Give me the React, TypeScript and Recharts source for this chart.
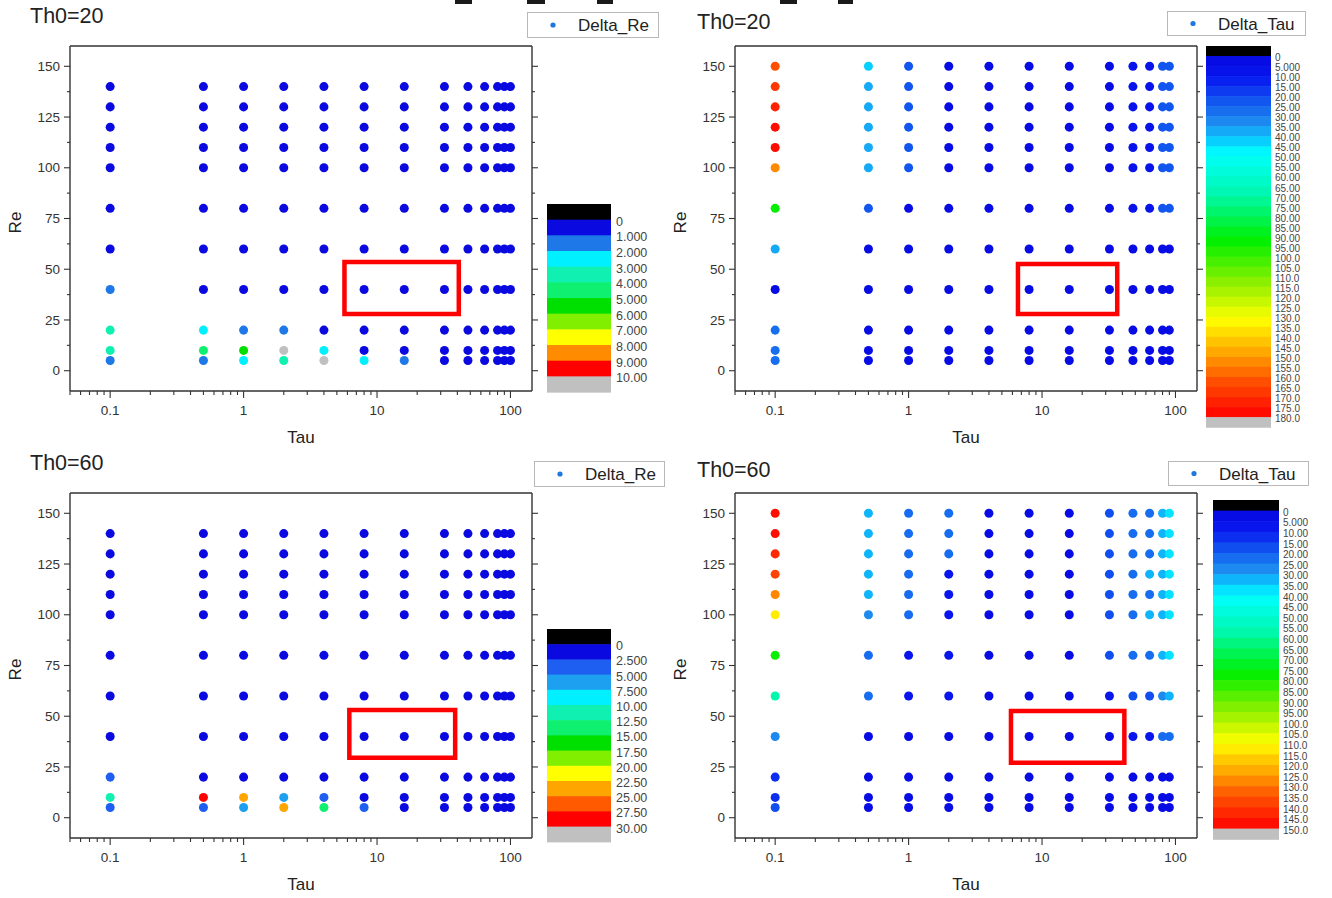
import React from 'react';
import { ScatterChart, Scatter, XAxis, YAxis, ZAxis, Cell, ReferenceArea } from 'recharts';

const FONT = 'Arial, "Liberation Sans", Helvetica, sans-serif';
const AXIS = '#333333';

// Grid of the sweep: Tau (columns) and Re (rows)
const TAU_FULL = [0.1, 0.5, 1, 2, 4, 8, 16, 32, 48, 64, 80, 90, 100];
const TAU_SHORT = [0.1, 0.5, 1, 2, 4, 8, 16, 32, 48, 64, 80, 90];
const RE_SHORT = [5, 10, 20, 40, 60, 80, 100, 110, 120, 130, 140];
const RE_FULL = [5, 10, 20, 40, 60, 80, 100, 110, 120, 130, 140, 150];

// Axis ticks
const TAU_TICKS = [
  0.05, 0.06, 0.07, 0.08, 0.09, 0.1, 0.2, 0.3, 0.4, 0.5, 0.6, 0.7, 0.8, 0.9,
  1, 2, 3, 4, 5, 6, 7, 8, 9, 10, 20, 30, 40, 50, 60, 70, 80, 90, 100,
];
const TAU_LABELED = [0.1, 1, 10, 100];
const RE_TICKS = [0, 12.5, 25, 37.5, 50, 62.5, 75, 87.5, 100, 112.5, 125, 137.5, 150];
const RE_LABELED = [0, 25, 50, 75, 100, 125, 150];
const TAU_DOMAIN = [0.05, 145];
const RE_DOMAIN = [-10, 160];

// Delta_Re, Th0=20 — rows follow RE_SHORT, columns follow TAU_FULL
const deltaReTh20 = [
  [1.6, 1.5, 2.6, 3.4, 11.2, 2.4, 1.3, 0.7, 0.6, 0.5, 0.5, 0.4, 0.4],
  [3.3, 4.5, 5.4, 10.8, 2.5, 0.8, 0.7, 0.6, 0.5, 0.5, 0.4, 0.4, 0.4],
  [3.5, 2.7, 1.4, 1.2, 0.8, 0.6, 0.5, 0.5, 0.4, 0.4, 0.4, 0.3, 0.3],
  [1.3, 0.7, 0.6, 0.5, 0.5, 0.4, 0.4, 0.3, 0.3, 0.3, 0.3, 0.3, 0.3],
  [0.8, 0.6, 0.5, 0.4, 0.4, 0.3, 0.3, 0.3, 0.3, 0.2, 0.2, 0.2, 0.2],
  [0.6, 0.5, 0.4, 0.4, 0.3, 0.3, 0.3, 0.2, 0.2, 0.2, 0.2, 0.2, 0.2],
  [0.5, 0.4, 0.4, 0.3, 0.3, 0.3, 0.2, 0.2, 0.2, 0.2, 0.2, 0.2, 0.2],
  [0.5, 0.4, 0.3, 0.3, 0.3, 0.2, 0.2, 0.2, 0.2, 0.2, 0.2, 0.2, 0.2],
  [0.4, 0.4, 0.3, 0.3, 0.3, 0.2, 0.2, 0.2, 0.2, 0.2, 0.2, 0.2, 0.2],
  [0.4, 0.3, 0.3, 0.3, 0.2, 0.2, 0.2, 0.2, 0.2, 0.2, 0.2, 0.2, 0.2],
  [0.4, 0.3, 0.3, 0.2, 0.2, 0.2, 0.2, 0.2, 0.2, 0.2, 0.2, 0.2, 0.2],
];

// Delta_Re, Th0=60 — rows follow RE_SHORT, columns follow TAU_FULL
const deltaReTh60 = [
  [3.6, 3.4, 6.2, 23.8, 14.0, 3.3, 1.6, 1.2, 1.0, 0.9, 0.8, 0.8, 0.7],
  [11.2, 28.6, 23.6, 6.4, 3.8, 1.8, 1.4, 1.1, 1.0, 0.9, 0.8, 0.7, 0.7],
  [3.9, 1.8, 1.5, 1.3, 1.1, 1.0, 0.9, 0.8, 0.7, 0.7, 0.6, 0.6, 0.6],
  [1.9, 1.2, 1.0, 0.9, 0.8, 0.7, 0.7, 0.6, 0.6, 0.5, 0.5, 0.5, 0.5],
  [1.5, 1.0, 0.9, 0.8, 0.7, 0.6, 0.6, 0.5, 0.5, 0.5, 0.5, 0.4, 0.4],
  [1.3, 0.9, 0.8, 0.7, 0.6, 0.6, 0.5, 0.5, 0.4, 0.4, 0.4, 0.4, 0.4],
  [1.1, 0.8, 0.7, 0.6, 0.6, 0.5, 0.5, 0.4, 0.4, 0.4, 0.4, 0.4, 0.4],
  [1.1, 0.8, 0.7, 0.6, 0.5, 0.5, 0.4, 0.4, 0.4, 0.4, 0.4, 0.3, 0.3],
  [1.0, 0.7, 0.6, 0.6, 0.5, 0.5, 0.4, 0.4, 0.4, 0.3, 0.3, 0.3, 0.3],
  [1.0, 0.7, 0.6, 0.5, 0.5, 0.4, 0.4, 0.4, 0.3, 0.3, 0.3, 0.3, 0.3],
  [0.9, 0.7, 0.6, 0.5, 0.5, 0.4, 0.4, 0.3, 0.3, 0.3, 0.3, 0.3, 0.3],
];

// Delta_Tau, Th0=20 — rows follow RE_FULL, columns follow TAU_SHORT
const deltaTauTh20 = [
  [28, 4, 3, 3, 3, 3, 3, 3, 4, 4, 4, 4],
  [28, 4, 3, 3, 3, 3, 3, 3, 4, 4, 4, 4],
  [27, 4, 3, 3, 3, 3, 3, 3, 4, 4, 4, 4],
  [4, 4, 3, 3, 3, 3, 3, 3, 4, 4, 4, 4],
  [36, 4, 3, 3, 3, 3, 3, 3, 4, 4, 4, 4],
  [93, 23, 4, 3, 3, 3, 3, 4, 7, 7, 20, 22],
  [151, 36, 21, 4, 3, 3, 3, 4, 7, 7, 20, 22],
  [175, 36, 21, 4, 3, 3, 3, 4, 7, 7, 20, 22],
  [177, 36, 21, 4, 3, 3, 3, 4, 7, 7, 20, 22],
  [170, 36, 21, 4, 3, 3, 3, 4, 7, 7, 20, 22],
  [166, 36, 21, 4, 3, 3, 3, 4, 7, 7, 20, 22],
  [164, 41, 21, 4, 3, 3, 3, 4, 7, 7, 20, 22],
];

// Delta_Tau, Th0=60 — rows follow RE_FULL, columns follow TAU_SHORT
const deltaTauTh60 = [
  [16, 3, 3, 3, 3, 3, 3, 3, 4, 4, 4, 4],
  [13, 3, 3, 3, 3, 3, 3, 3, 4, 4, 4, 4],
  [13, 4, 3, 3, 3, 3, 3, 3, 4, 4, 4, 4],
  [29, 4, 3, 3, 3, 3, 3, 4, 9, 9, 21, 22],
  [57, 20, 8, 5, 3, 3, 3, 8, 19, 19, 29, 33],
  [76, 21, 8, 6, 3, 3, 3, 19, 21, 24, 31, 36],
  [110, 29, 23, 6, 4, 3, 3, 19, 21, 30, 31, 36],
  [127, 31, 23, 6, 4, 3, 3, 19, 21, 24, 31, 36],
  [137, 31, 23, 6, 4, 3, 3, 19, 21, 30, 31, 36],
  [143, 31, 23, 20, 4, 3, 3, 19, 21, 24, 31, 36],
  [146, 31, 23, 20, 4, 3, 3, 19, 21, 24, 31, 36],
  [148, 33, 23, 20, 4, 3, 3, 19, 21, 24, 31, 36],
];

// Colour-scale levels
const LEVELS_RE_TH20 = [0, 1, 2, 3, 4, 5, 6, 7, 8, 9, 10];
const LEVELS_RE_TH60 = [0, 2.5, 5, 7.5, 10, 12.5, 15, 17.5, 20, 22.5, 25, 27.5, 30];
const LEVELS_TAU_TH20 = [
  0, 5, 10, 15, 20, 25, 30, 35, 40, 45, 50, 55, 60, 65, 70, 75, 80, 85, 90,
  95, 100, 105, 110, 115, 120, 125, 130, 135, 140, 145, 150, 155, 160, 165, 170, 175, 180,
];
const LEVELS_TAU_TH60 = [
  0, 5, 10, 15, 20, 25, 30, 35, 40, 45, 50, 55, 60, 65, 70, 75, 80, 85, 90,
  95, 100, 105, 110, 115, 120, 125, 130, 135, 140, 145, 150,
];

const COLORS_RE_TH20 = ['#0a0ae0', '#1e78e8', '#00f0ff', '#10f0b0', '#10f070', '#00e000', '#80f000', '#ffff00', '#ff8c00', '#ff0000'];
const COLORS_RE_TH60 = ['#0a0ae0', '#1e5ef0', '#1ea0f0', '#00f0ff', '#10f0b0', '#10f070', '#00e000', '#80f000', '#ffff00', '#ffa500', '#ff5a00', '#ff0000'];

const UNDER = '#000000';
const OVER = '#c0c0c0';

// Jet-like ramp used by the Delta_Tau scales
const JET_STOPS: [number, string][] = [
  [0, '#0808e0'], [0.06, '#0818f0'], [0.14, '#1464f0'], [0.19, '#1e90f0'],
  [0.23, '#08c8ff'], [0.27, '#00ffff'], [0.38, '#00f8b0'], [0.51, '#00f000'],
  [0.63, '#90f000'], [0.73, '#ffff00'], [0.82, '#ffa800'], [0.9, '#ff5000'], [1, '#ff0000'],
];

function hexToRgb(h: string) {
  return [parseInt(h.slice(1, 3), 16), parseInt(h.slice(3, 5), 16), parseInt(h.slice(5, 7), 16)];
}
function jet(t: number) {
  for (let i = 1; i < JET_STOPS.length; i++) {
    const [t1, c1] = JET_STOPS[i];
    const [t0, c0] = JET_STOPS[i - 1];
    if (t <= t1) {
      const f = (t - t0) / (t1 - t0);
      const a = hexToRgb(c0);
      const b = hexToRgb(c1);
      const m = a.map((v, k) => Math.round(v + (b[k] - v) * f));
      return `rgb(${m[0]},${m[1]},${m[2]})`;
    }
  }
  return JET_STOPS[JET_STOPS.length - 1][1];
}
function jetBins(levels: number[]) {
  const max = levels[levels.length - 1];
  return levels.slice(0, -1).map((l, i) => jet((l + levels[i + 1]) / 2 / max));
}
const COLORS_TAU_TH20 = jetBins(LEVELS_TAU_TH20);
const COLORS_TAU_TH60 = jetBins(LEVELS_TAU_TH60);

function colorFor(v: number, levels: number[], colors: string[]) {
  if (v < levels[0]) return UNDER;
  if (v >= levels[levels.length - 1]) return OVER;
  for (let i = 0; i < colors.length; i++) if (v < levels[i + 1]) return colors[i];
  return OVER;
}

// Highlighted Re=40 block, in data units (tau range, Re range)
const BOX_RE_TH20 = { x1: 5.7, x2: 41, y1: 28, y2: 53.6 };
const BOX_TAU_TH20 = { x1: 6.6, x2: 36.6, y1: 28, y2: 52.6 };
const BOX_RE_TH60 = { x1: 6.2, x2: 38.5, y1: 29.5, y2: 53.1 };
const BOX_TAU_TH60 = { x1: 5.85, x2: 41.4, y1: 27.1, y2: 52.6 };

const isDecade = (v: number) => TAU_LABELED.some((d) => Math.abs(d - v) < 1e-9);
const tauLabel = (v: number) => (v < 1 ? String(v) : String(Math.round(v)));

function TauTick(props: any) {
  const { x, y, payload, side } = props;
  const v = payload.value;
  const major = isDecade(v);
  const len = major ? 7 : 4;
  if (side === 'top') {
    return <line x1={x} x2={x} y1={y} y2={y + len} stroke={AXIS} strokeWidth={1.1} />;
  }
  return (
    <g>
      <line x1={x} x2={x} y1={y} y2={y + len} stroke={AXIS} strokeWidth={1.1} />
      {major && (
        <text x={x} y={y + 24} textAnchor="middle" fontSize={13.5} fontFamily={FONT} fill="#333">
          {tauLabel(v)}
        </text>
      )}
    </g>
  );
}

function ReTick(props: any) {
  const { x, y, payload, side } = props;
  const v = payload.value;
  const major = RE_LABELED.includes(v);
  const len = major ? 6 : 3;
  if (side === 'right') {
    return <line x1={x} x2={x + len} y1={y} y2={y} stroke={AXIS} strokeWidth={1.1} />;
  }
  return (
    <g>
      <line x1={x - len} x2={x} y1={y} y2={y} stroke={AXIS} strokeWidth={1.1} />
      {major && (
        <text x={x - 10} y={y + 4.7} textAnchor="end" fontSize={13.5} fontFamily={FONT} fill="#333">
          {v}
        </text>
      )}
    </g>
  );
}

function AxisTitle(props: any) {
  const { viewBox, text, kind } = props;
  if (!viewBox) return null;
  if (kind === 'x') {
    const cx = viewBox.x + viewBox.width / 2;
    return (
      <text x={cx} y={viewBox.y + 52} textAnchor="middle" fontSize={17} fontFamily={FONT} fill="#222">
        {text}
      </text>
    );
  }
  const cx = viewBox.x + 11;
  const cy = viewBox.y + viewBox.height / 2 + 4;
  return (
    <text x={cx} y={cy} transform={`rotate(-90 ${cx} ${cy})`} textAnchor="middle" fontSize={17} fontFamily={FONT} fill="#222">
      {text}
    </text>
  );
}

function Panel(props: any) {
  const { left, top, taus, res, values, levels, colors, box } = props;
  const points: { tau: number; re: number; v: number; fill: string }[] = [];
  res.forEach((re: number, i: number) =>
    taus.forEach((tau: number, j: number) => {
      const v = values[i][j];
      points.push({ tau, re, v, fill: colorFor(v, levels, colors) });
    })
  );
  const axisLine = { stroke: AXIS, strokeWidth: 1.4 };
  return (
    <div style={{ position: 'absolute', left, top }}>
      <ScatterChart width={560} height={450} margin={{ top: 40, right: 20, bottom: 9, left: 10 }}>
        <XAxis
          xAxisId="b" dataKey="tau" type="number" scale="log" domain={TAU_DOMAIN} allowDataOverflow
          ticks={TAU_TICKS} interval={0} height={50} tickSize={0} tickMargin={0} tickLine={false}
          axisLine={axisLine} tick={(p: any) => <TauTick {...p} side="bottom" />}
          label={<AxisTitle kind="x" text="Tau" />}
        />
        <XAxis
          xAxisId="t" orientation="top" type="number" scale="log" domain={TAU_DOMAIN} allowDataOverflow
          ticks={TAU_TICKS} interval={0} height={6} tickSize={0} tickMargin={0} tickLine={false}
          axisLine={axisLine} tick={(p: any) => <TauTick {...p} side="top" />}
        />
        <YAxis
          yAxisId="l" dataKey="re" type="number" domain={RE_DOMAIN} allowDataOverflow
          ticks={RE_TICKS} interval={0} width={60} tickSize={0} tickMargin={0} tickLine={false}
          axisLine={axisLine} tick={(p: any) => <ReTick {...p} side="left" />}
          label={<AxisTitle kind="y" text="Re" />}
        />
        <YAxis
          yAxisId="r" orientation="right" type="number" domain={RE_DOMAIN} allowDataOverflow
          ticks={RE_TICKS} interval={0} width={8} tickSize={0} tickMargin={0} tickLine={false}
          axisLine={axisLine} tick={(p: any) => <ReTick {...p} side="right" />}
        />
        <ZAxis range={[72, 72]} />
        <Scatter xAxisId="b" yAxisId="l" data={points} isAnimationActive={false}>
          {points.map((p, i) => (
            <Cell key={i} fill={p.fill} />
          ))}
        </Scatter>
        <ReferenceArea
          xAxisId="b" yAxisId="l" x1={box.x1} x2={box.x2} y1={box.y1} y2={box.y2}
          fill="none" fillOpacity={0} stroke="#ff0000" strokeWidth={4.5} ifOverflow="visible"
        />
      </ScatterChart>
    </div>
  );
}

function ColorBar(props: any) {
  const { x, y, w, band, levels, colors, labelX, fontSize } = props;
  const fills = [UNDER, ...colors, OVER];
  return (
    <g>
      {fills.map((c: string, i: number) => (
        <rect key={i} x={x} y={y + i * band} width={w} height={band + 0.6} fill={c} />
      ))}
      {levels.map((l: number, k: number) => (
        <text key={k} x={labelX} y={y + (k + 1) * band + fontSize * 0.36 + 1.5} fontSize={fontSize} fontFamily={FONT} fill="#444">
          {l === 0 ? '0' : l.toPrecision(4)}
        </text>
      ))}
    </g>
  );
}

function LegendBox(props: any) {
  const { x, y, w, h, text } = props;
  return (
    <g>
      <rect x={x + 0.5} y={y + 0.5} width={w} height={h} fill="#fff" stroke="#b8b8b8" strokeWidth={1} />
      <circle cx={x + 26} cy={y + h / 2 + 0.5} r={2.6} fill="#1e78e0" />
      <text x={x + 51} y={y + h / 2 + 6.5} fontSize={17} fontFamily={FONT} fill="#222">
        {text}
      </text>
    </g>
  );
}

// Tail of the clipped page heading
const HEADING_MARKS = [
  [455, 472], [527, 545], [597, 613], [780, 797], [838, 853],
];

export default function App() {
  return (
    <div style={{ position: 'absolute', left: 0, top: 0, width: 1332, height: 898, background: '#fff', overflow: 'hidden', fontFamily: FONT }}>
      <Panel left={0} top={0} taus={TAU_FULL} res={RE_SHORT} values={deltaReTh20} levels={LEVELS_RE_TH20} colors={COLORS_RE_TH20} box={BOX_RE_TH20} />
      <Panel left={665} top={0} taus={TAU_SHORT} res={RE_FULL} values={deltaTauTh20} levels={LEVELS_TAU_TH20} colors={COLORS_TAU_TH20} box={BOX_TAU_TH20} />
      <Panel left={0} top={447} taus={TAU_FULL} res={RE_SHORT} values={deltaReTh60} levels={LEVELS_RE_TH60} colors={COLORS_RE_TH60} box={BOX_RE_TH60} />
      <Panel left={665} top={447} taus={TAU_SHORT} res={RE_FULL} values={deltaTauTh60} levels={LEVELS_TAU_TH60} colors={COLORS_TAU_TH60} box={BOX_TAU_TH60} />
      <svg width={1332} height={898} style={{ position: 'absolute', left: 0, top: 0, pointerEvents: 'none' }}>
        {HEADING_MARKS.map(([a, b], i) => (
          <rect key={i} x={a} y={0} width={b - a} height={4} fill="#1a1a1a" />
        ))}
        <text x={30} y={23} fontSize={21.5} fontFamily={FONT} fill="#222">Th0=20</text>
        <text x={697} y={29} fontSize={21.5} fontFamily={FONT} fill="#222">Th0=20</text>
        <text x={30} y={470} fontSize={21.5} fontFamily={FONT} fill="#222">Th0=60</text>
        <text x={697} y={477} fontSize={21.5} fontFamily={FONT} fill="#222">Th0=60</text>
        <LegendBox x={527} y={12} w={131} h={25} text="Delta_Re" />
        <LegendBox x={1167} y={11} w={138} h={24} text="Delta_Tau" />
        <LegendBox x={534} y={461} w={130} h={25} text="Delta_Re" />
        <LegendBox x={1168} y={461} w={140} h={24} text="Delta_Tau" />
        <ColorBar x={547} y={204} w={64} band={15.67} levels={LEVELS_RE_TH20} colors={COLORS_RE_TH20} labelX={616} fontSize={12.5} />
        <ColorBar x={547} y={629} w={64} band={15.2} levels={LEVELS_RE_TH60} colors={COLORS_RE_TH60} labelX={616} fontSize={12.5} />
        <ColorBar x={1206} y={46} w={65} band={10.03} levels={LEVELS_TAU_TH20} colors={COLORS_TAU_TH20} labelX={1275} fontSize={10} />
        <ColorBar x={1213} y={500} w={66} band={10.6} levels={LEVELS_TAU_TH60} colors={COLORS_TAU_TH60} labelX={1283} fontSize={10} />
      </svg>
    </div>
  );
}
